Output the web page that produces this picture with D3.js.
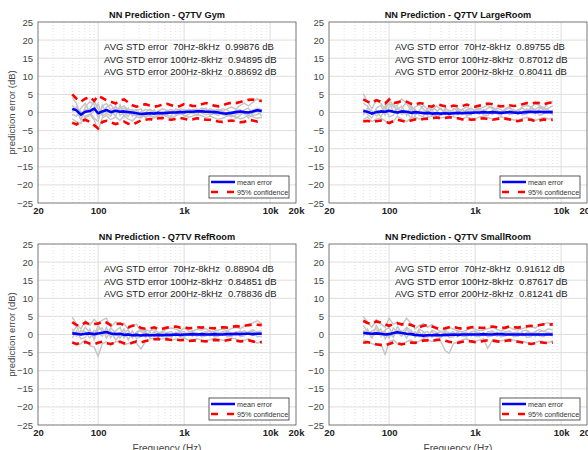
<!DOCTYPE html>
<meta charset="utf-8">
<style>
  body{margin:0;background:#fff;}
  text{font-family:"Liberation Sans",Arial,sans-serif;}
</style>
<svg id="chart" width="588" height="450"></svg>
<script src="https://cdn.jsdelivr.net/npm/d3@7/dist/d3.min.js"></script>
<script>

// frequency points (Hz), 1/6 octave
var freqs = [50,56,63,71,80,90,100,112,125,140,160,180,200,224,250,280,315,355,400,450,500,560,630,710,800,900,
  1000,1120,1250,1400,1600,1800,2000,2240,2500,2800,3150,3550,4000,4500,5000,5600,6300,7100,8000];

var xTicks = [20,100,1000,10000,20000];
var xTickLabels = ["20","100","1k","10k","20k"];
var yTicks = [-25,-20,-15,-10,-5,0,5,10,15,20,25];
var bandLabels = ["AVG STD error  70Hz-8kHz  ","AVG STD error 100Hz-8kHz  ","AVG STD error 200Hz-8kHz  "];
var legendLabels = ["mean error","95% confidence"];

// ---- Gym
var gymStats = ["0.99876","0.94895","0.88692"];
var gymMean = [1.0,0.6,-0.6,0.2,0.4,1.1,-0.2,0.3,0.7,0.1,0.5,0.2,0.3,0.1,0.0,-0.2,-0.4,-0.3,-0.2,-0.3,-0.1,-0.2,-0.1,0.0,0.0,0.1,
  0.1,0.2,0.2,0.3,0.3,0.2,0.2,0.1,0.0,-0.2,-0.3,-0.1,0.1,0.3,0.1,0.0,0.3,0.6,0.4];
var gymUpper = [5.0,3.8,3.0,3.8,4.3,3.2,4.6,4.0,3.4,3.0,2.5,3.4,3.6,2.8,2.0,1.6,2.0,2.3,1.9,1.6,1.8,2.2,2.4,2.0,1.6,1.8,
  2.3,2.2,1.8,1.8,2.3,2.6,2.3,1.9,1.7,2.0,2.4,2.7,2.6,2.9,3.2,3.5,3.6,3.3,3.2];
var gymLower = [-2.8,-3.3,-2.5,-2.0,-2.6,-3.5,-4.4,-2.6,-2.3,-2.7,-3.2,-2.8,-2.5,-3.1,-3.4,-2.8,-2.2,-2.0,-1.8,-2.1,-1.6,-1.5,-1.9,-2.0,-1.8,-1.5,
  -1.7,-2.0,-1.9,-1.6,-1.8,-2.0,-2.0,-2.2,-2.5,-2.6,-2.4,-2.2,-2.4,-2.7,-2.6,-2.0,-2.2,-2.5,-2.3];
var gymGray = [
  [4.2,2.5,-1.0,1.5,3.0,2.2,-1.5,1.8,2.5,0.8,1.5,0.5,1.2,0.3,-0.5,-1.0,0.2,0.8,0.5,-0.6,0.4,1.0,0.6,-0.2,0.3,1.0,0.8,0.2,-0.3,0.6,1.2,0.9,0.3,-0.4,-0.8,0.2,1.0,1.5,0.9,2.0,2.6,1.8,2.8,3.8,2.9],
  [-1.8,-2.5,-3.0,-1.0,-0.5,-2.0,-5.0,-1.5,-0.8,-2.0,-1.2,-2.2,-0.8,-1.8,-2.3,-1.2,-1.5,-0.6,-1.0,-1.6,-0.8,-0.5,-1.2,-1.5,-0.9,-0.4,-0.8,-1.3,-1.0,-0.5,-0.9,-1.4,-1.0,-1.5,-1.9,-1.6,-1.0,-0.8,-1.2,-1.8,-1.4,-0.8,-1.2,-1.6,-1.3],
  [2.0,0.5,-2.0,0.8,1.0,3.2,1.0,-0.5,1.5,2.2,0.3,1.2,1.8,0.6,0.8,-0.4,-1.2,0.0,0.9,0.2,-0.5,-0.2,0.5,0.8,0.2,-0.3,0.4,0.9,0.6,0.1,0.5,0.3,1.0,0.6,0.3,-0.5,-1.0,-0.3,0.5,0.8,-0.4,-0.7,0.6,1.2,0.8],
  [0.2,1.5,0.3,-1.5,-0.8,0.5,2.5,-1.0,-0.2,-1.0,1.8,-0.8,0.0,-1.0,0.5,0.8,-0.6,-1.2,-0.8,-1.2,0.2,-0.8,-0.6,0.3,-0.5,0.2,-0.3,0.4,0.8,1.0,-0.2,-0.6,-0.3,0.6,0.9,0.4,-0.6,-1.2,-0.5,-0.3,0.7,1.2,-0.8,-0.5,0.2],
  [-0.5,-1.0,1.2,2.5,0.0,-1.5,-2.5,2.0,0.0,0.5,-1.0,2.2,-1.2,1.2,-1.0,0.5,1.0,-1.5,-0.5,0.8,-1.2,0.3,-0.8,-1.0,1.0,0.6,-1.0,-0.6,0.3,-0.8,0.8,1.2,-0.8,-0.2,0.6,1.0,0.8,-0.5,-1.6,-0.8,0.3,-1.6,-0.2,0.5,-1.0]
];

// ---- LargeRoom
var largeStats = ["0.89755","0.87012","0.80411"];
var largeMean = [0.4,0.2,-0.3,0.1,0.3,0.2,0.5,0.2,0.0,0.3,0.2,-0.1,0.1,0.0,-0.2,-0.1,-0.3,-0.2,-0.3,-0.2,-0.3,-0.2,-0.1,-0.2,-0.1,-0.1,
  0.0,0.0,0.1,0.0,0.1,0.0,-0.1,0.0,0.1,0.0,-0.1,0.0,0.1,0.2,0.1,0.2,0.1,0.1,0.1];
var largeUpper = [3.6,3.0,2.6,3.4,3.0,2.5,3.6,2.6,2.8,3.2,3.0,2.4,2.1,2.6,2.4,1.8,1.6,2.3,2.0,1.7,1.5,1.9,1.7,1.8,2.2,1.8,
  1.6,1.9,2.2,2.5,2.3,1.9,1.7,1.8,2.0,1.8,1.9,2.3,2.6,2.5,2.7,2.6,2.3,2.6,2.8];
var largeLower = [-2.5,-2.3,-2.6,-2.4,-2.2,-2.5,-2.9,-2.4,-2.0,-2.3,-2.6,-2.2,-1.9,-2.1,-1.8,-1.7,-1.6,-1.4,-1.6,-1.5,-1.3,-1.5,-1.6,-1.9,-1.8,-2.0,
  -1.9,-1.7,-1.6,-1.8,-2.0,-1.8,-1.6,-1.7,-1.9,-2.2,-2.4,-2.1,-1.9,-2.0,-2.4,-2.2,-1.9,-2.2,-2.0];
var largeGray = [
  [5.2,3.0,1.0,3.5,2.5,1.0,4.0,1.5,2.0,3.8,2.5,0.5,1.5,2.2,1.0,0.0,0.5,1.8,0.8,0.3,-0.2,1.0,0.5,0.8,1.6,0.4,0.0,1.0,1.5,2.0,1.0,0.3,0.2,0.8,1.2,0.6,0.5,1.6,2.0,1.5,2.4,2.0,1.2,2.5,3.0],
  [-2.0,-1.2,-2.5,-1.8,-1.5,-2.3,-3.0,-2.5,-1.0,-1.8,-2.5,-1.5,-1.2,-1.8,-1.6,-1.3,-1.0,-0.8,-1.5,-1.2,-1.0,-1.2,-1.5,-1.8,-1.2,-1.6,-1.8,-1.2,-1.0,-1.4,-1.8,-1.5,-1.2,-1.5,-1.8,-2.0,-2.2,-1.6,-1.3,-1.6,-2.2,-1.8,-1.4,-1.8,-1.6],
  [1.0,-0.5,-1.5,1.2,2.0,-0.8,1.5,2.5,-0.5,1.0,3.0,1.5,-0.8,0.5,2.0,0.8,-1.0,0.2,1.2,-0.5,0.6,-0.8,0.8,-0.4,0.6,1.2,0.3,-0.5,0.8,0.2,-0.6,1.2,0.8,-0.3,0.4,0.9,-0.6,0.2,1.0,0.2,-0.4,1.0,1.5,0.2,0.5],
  [-0.8,1.2,0.5,-1.0,0.0,1.8,-1.2,-0.8,1.5,-0.5,0.0,-1.5,1.0,-0.8,-1.2,1.2,0.8,-1.2,-0.6,0.8,-0.9,0.3,-0.6,0.9,-0.8,-0.5,0.8,0.6,-0.6,-0.8,0.6,-0.4,-0.8,0.6,-0.6,-0.3,0.8,-0.7,-0.4,1.0,0.6,-0.8,-0.3,0.8,-0.6],
  [2.5,1.8,-0.5,0.5,-1.2,0.6,2.8,0.2,0.8,1.8,-0.8,2.0,0.5,-0.2,0.4,-0.8,1.5,0.6,-0.8,1.3,0.3,0.8,1.2,0.2,0.8,-0.6,1.0,1.2,0.2,1.2,1.5,0.6,-0.2,1.0,1.6,0.4,0.6,1.2,0.3,1.4,0.8,1.6,0.6,1.2,1.8]
];

// ---- RefRoom
var refStats = ["0.88904","0.84851","0.78836"];
var refMean = [0.3,0.2,0.0,0.2,0.3,0.1,0.3,0.5,0.7,0.3,0.1,0.2,-0.1,0.0,-0.2,-0.1,-0.3,-0.1,-0.2,-0.2,-0.1,-0.2,-0.1,-0.1,0.0,-0.1,
  0.0,0.0,0.1,0.0,0.1,0.0,0.0,0.1,0.0,0.0,0.1,0.1,0.2,0.1,0.2,0.2,0.1,0.2,0.2];
var refUpper = [3.4,2.6,2.5,3.3,2.8,2.9,3.0,3.6,3.3,2.6,2.9,3.0,2.6,2.0,2.4,2.6,1.8,1.6,1.7,2.0,1.5,1.6,1.9,2.1,2.2,1.9,
  2.1,1.7,1.8,2.0,1.9,2.1,1.8,1.7,1.9,2.0,1.9,2.1,2.3,2.2,2.4,2.6,2.7,2.7,2.6];
var refLower = [-2.2,-2.6,-2.3,-2.1,-2.5,-2.7,-2.3,-2.0,-2.4,-2.6,-2.2,-2.0,-2.4,-2.6,-2.3,-1.9,-2.2,-1.8,-1.6,-1.3,-1.2,-1.4,-1.3,-1.5,-1.4,-1.6,
  -1.5,-1.8,-1.7,-1.6,-1.8,-1.9,-1.7,-1.5,-1.6,-1.8,-1.6,-1.4,-1.7,-1.9,-1.8,-1.6,-1.9,-2.2,-2.1];
var refGray = [
  [4.8,3.0,1.5,3.8,2.5,4.2,3.0,4.0,4.5,2.0,3.5,2.8,3.0,1.5,2.5,2.8,0.8,1.2,0.9,1.5,0.5,0.8,1.6,1.8,1.5,1.0,1.8,1.0,0.9,1.4,1.2,1.6,0.8,0.9,1.2,1.5,1.0,1.6,2.0,1.6,2.3,2.8,3.2,3.8,3.0],
  [-2.0,-3.0,-2.5,-1.5,-3.0,-3.5,-6.0,-2.5,-2.0,-3.0,-2.0,-1.8,-2.8,-2.5,-2.0,-2.5,-4.0,-2.0,-1.2,-1.0,-1.5,-1.2,-0.8,-1.6,-1.2,-1.4,-1.0,-1.5,-1.6,-1.2,-1.5,-1.8,-1.4,-1.0,-1.2,-1.6,-1.4,-1.0,-1.2,-1.8,-1.6,-1.2,-1.8,-2.4,-1.8],
  [1.5,-0.5,1.0,0.8,-1.0,1.2,0.5,-0.5,2.0,-0.8,1.0,2.0,-1.0,0.5,-1.0,0.8,1.0,-0.8,0.6,-0.5,0.3,-0.6,0.5,0.8,-0.4,0.6,0.8,-0.3,0.6,-0.5,0.4,0.8,-0.4,0.5,0.6,-0.2,0.8,0.5,-0.3,0.6,1.0,0.4,-0.3,0.8,1.0],
  [-1.0,1.0,-1.2,-0.8,1.5,-1.5,1.5,1.8,-1.0,1.0,-1.5,0.0,1.5,-1.5,1.0,-1.2,-0.5,1.0,-0.8,0.6,-0.8,0.5,-0.6,-0.5,0.6,-0.7,-0.5,0.6,-0.5,0.6,-0.6,-0.4,0.5,-0.6,-0.5,0.6,-0.6,-0.5,0.8,-0.6,-0.4,0.6,0.8,-0.6,-0.5],
  [0.5,2.2,0.0,2.0,0.5,-0.5,2.5,0.8,0.0,1.8,0.5,-1.0,0.6,1.2,-0.5,0.0,1.8,0.5,-0.8,0.9,-0.4,1.0,0.2,-0.8,0.4,0.9,-0.8,0.4,1.0,0.2,-0.6,0.5,1.0,-0.4,0.2,0.8,0.4,-0.6,0.5,1.0,-0.2,0.8,1.3,0.6,0.4]
];

// ---- SmallRoom
var smallStats = ["0.91612","0.87617","0.81241"];
var smallMean = [0.4,0.3,0.2,0.3,0.2,0.0,0.1,0.4,0.6,0.4,0.2,0.1,-0.1,-0.2,-0.3,-0.2,-0.2,-0.1,-0.2,-0.1,-0.1,0.0,-0.1,0.0,0.0,0.0,
  0.0,0.0,0.1,0.0,0.0,0.1,0.1,0.0,0.0,0.0,0.0,0.0,0.0,0.0,0.0,0.0,0.0,0.0,0.0];
var smallUpper = [3.8,3.2,2.9,3.6,3.3,2.8,2.4,2.9,3.1,2.8,3.0,2.6,2.2,2.0,2.4,2.6,2.2,1.8,1.5,1.7,2.0,2.1,1.8,1.6,1.7,2.0,
  2.1,1.9,1.8,2.0,2.2,2.0,1.8,1.9,2.2,2.0,1.9,2.1,2.3,2.4,2.3,2.6,2.8,2.7,2.8];
var smallLower = [-2.3,-2.1,-2.4,-2.7,-2.9,-3.0,-2.6,-2.2,-2.4,-2.7,-2.5,-2.2,-2.3,-2.0,-1.7,-1.6,-1.8,-1.5,-1.4,-1.7,-2.0,-2.2,-2.3,-2.0,-1.8,-1.9,
  -2.1,-2.0,-1.8,-1.6,-1.7,-1.9,-2.0,-1.8,-1.6,-1.8,-2.0,-2.2,-2.4,-2.6,-2.4,-2.1,-2.3,-2.4,-2.2];
var smallGray = [
  [5.0,3.5,2.0,4.2,3.0,2.0,4.5,2.8,3.5,2.5,4.5,3.0,1.5,2.5,3.0,2.0,2.8,1.5,0.8,1.2,2.0,1.5,1.0,0.8,1.2,1.8,1.5,1.0,1.2,1.6,2.0,1.4,1.0,1.5,2.0,1.4,1.2,1.6,2.0,2.2,1.8,2.6,3.0,3.2,3.0],
  [-1.5,-2.0,-2.5,-3.0,-2.5,-5.5,-2.0,-1.5,-2.5,-3.0,-2.0,-1.5,-2.5,-1.8,-1.2,-1.5,-2.0,-1.2,-2.0,-4.5,-5.2,-2.5,-2.0,-1.5,-1.2,-1.8,-2.0,-1.5,-1.2,-3.8,-1.5,-1.6,-1.8,-1.4,-1.2,-1.6,-1.8,-2.0,-2.2,-2.8,-2.2,-1.8,-2.0,-2.2,-1.8],
  [1.2,0.0,1.0,1.5,-0.5,0.8,-1.0,1.8,0.5,-0.5,1.5,0.0,0.8,-0.6,0.5,0.8,-0.8,0.4,0.8,-0.5,0.3,0.8,-0.6,0.5,0.6,-0.4,0.6,0.5,-0.3,0.4,0.6,-0.5,0.4,0.8,-0.2,0.5,0.6,-0.4,0.6,0.5,-0.5,0.8,1.0,0.3,0.6],
  [-0.6,1.5,-0.8,0.5,1.5,-1.2,0.5,-0.8,1.2,1.0,-1.0,1.2,-0.8,0.8,-1.0,-0.5,0.8,-0.6,-0.8,0.5,-0.8,-0.6,0.6,-0.5,-0.6,0.6,-0.5,-0.6,0.5,-0.6,-0.4,0.6,-0.6,-0.4,0.5,-0.6,-0.4,0.5,-0.8,-0.6,0.6,-0.4,-0.6,0.6,-0.5],
  [2.5,0.8,-1.0,2.5,0.2,1.2,2.0,-0.5,2.2,0.5,2.0,1.0,-0.5,1.5,0.8,-0.8,1.2,0.6,-0.4,1.0,0.4,-0.6,1.0,0.6,-0.5,0.8,1.0,0.2,-0.4,0.8,1.0,0.0,-0.6,0.6,1.0,0.2,-0.5,1.0,1.2,0.3,0.8,1.4,0.8,1.6,1.2]
];

var panels = [
  {title:"NN Prediction - Q7TV Gym", stats:gymStats, mean:gymMean, upper:gymUpper, lower:gymLower, gray:gymGray, left:38, top:22, ylab:true, xlab:false},
  {title:"NN Prediction - Q7TV LargeRoom", stats:largeStats, mean:largeMean, upper:largeUpper, lower:largeLower, gray:largeGray, left:329, top:22, ylab:false, xlab:false},
  {title:"NN Prediction - Q7TV RefRoom", stats:refStats, mean:refMean, upper:refUpper, lower:refLower, gray:refGray, left:38, top:244, ylab:true, xlab:true},
  {title:"NN Prediction - Q7TV SmallRoom", stats:smallStats, mean:smallMean, upper:smallUpper, lower:smallLower, gray:smallGray, left:329, top:244, ylab:false, xlab:true}
];

var svg = d3.select("#chart");
var W = 258, H = 181;

function drawPanel(p, idx){
  var g = svg.append("g").attr("transform", "translate(" + p.left + "," + p.top + ")");
  var x = d3.scaleLog().domain([20, 20000]).range([0, W]);
  var y = d3.scaleLinear().domain([-25, 25]).range([H, 0]);

  g.append("rect").attr("width", W).attr("height", H).attr("fill", "#fff");

  // minor vertical grid (dotted)
  var minor = x.ticks().filter(function(d){ return xTicks.indexOf(d) < 0; });
  g.append("g").selectAll("line").data(minor).enter().append("line")
      .attr("x1", function(d){ return x(d); }).attr("x2", function(d){ return x(d); })
      .attr("y1", 0).attr("y2", H)
      .attr("stroke", "#d4d4d4").attr("stroke-width", 0.7).attr("stroke-dasharray", "1,2");

  // major grid
  g.append("g").selectAll("line").data(xTicks.slice(1, -1)).enter().append("line")
      .attr("x1", function(d){ return x(d); }).attr("x2", function(d){ return x(d); })
      .attr("y1", 0).attr("y2", H)
      .attr("stroke", "#dadada").attr("stroke-width", 0.9);
  g.append("g").selectAll("line").data(yTicks.slice(1, -1)).enter().append("line")
      .attr("x1", 0).attr("x2", W)
      .attr("y1", function(d){ return y(d); }).attr("y2", function(d){ return y(d); })
      .attr("stroke", "#dadada").attr("stroke-width", 0.9);

  // data lines
  g.append("clipPath").attr("id", "clip" + idx).append("rect").attr("width", W).attr("height", H);
  var plot = g.append("g").attr("clip-path", "url(#clip" + idx + ")");
  var line = d3.line()
      .x(function(d, i){ return x(freqs[i]); })
      .y(function(d){ return y(d); });

  p.gray.forEach(function(s){
    plot.append("path").datum(s).attr("fill", "none")
        .attr("stroke", "#c4c4c4").attr("stroke-width", 1.4).attr("d", line);
  });
  [p.upper, p.lower].forEach(function(s){
    plot.append("path").datum(s).attr("fill", "none")
        .attr("stroke", "#ff0000").attr("stroke-width", 2.6)
        .attr("stroke-dasharray", "7,5").attr("d", line);
  });
  plot.append("path").datum(p.mean).attr("fill", "none")
      .attr("stroke", "#0000ff").attr("stroke-width", 2.6)
      .attr("stroke-linejoin", "round").attr("d", line);

  // box
  g.append("rect").attr("width", W).attr("height", H)
      .attr("fill", "none").attr("stroke", "#555").attr("stroke-width", 0.8);

  // axes
  var yAxis = g.append("g").call(d3.axisLeft(y).tickValues(yTicks).tickSize(0).tickPadding(5));
  yAxis.select(".domain").remove();
  yAxis.selectAll("text").attr("font-size", 9.5).attr("fill", "#444")
      .style("font-family", "'Liberation Sans',Arial,sans-serif");

  var xAxis = g.append("g").attr("transform", "translate(0," + H + ")")
      .call(d3.axisBottom(x).tickValues(xTicks).tickSize(0).tickPadding(4)
        .tickFormat(function(d, i){ return xTickLabels[i]; }));
  xAxis.select(".domain").remove();
  xAxis.selectAll("text").attr("font-size", 9.5).attr("font-weight", "bold").attr("fill", "#222")
      .style("font-family", "'Liberation Sans',Arial,sans-serif");

  // title
  g.append("text").attr("x", W / 2).attr("y", -4).attr("text-anchor", "middle")
      .attr("font-size", 9.2).attr("font-weight", "bold").attr("fill", "#111").text(p.title);

  // stats text
  bandLabels.forEach(function(b, i){
    g.append("text").attr("x", 66).attr("y", 28 + i * 12.5)
        .attr("font-size", 9.5).attr("fill", "#222")
        .style("white-space", "pre")
        .text(b + p.stats[i] + " dB");
  });

  if (p.ylab) {
    g.append("text").attr("transform", "translate(-23," + (H / 2) + ") rotate(-90)")
        .attr("text-anchor", "middle").attr("font-size", 9.5).attr("fill", "#444")
        .text("prediction error (dB)");
  }
  if (p.xlab) {
    g.append("text").attr("x", W / 2).attr("y", H + 27).attr("text-anchor", "middle")
        .attr("font-size", 10).attr("fill", "#444").text("Frequency (Hz)");
  }

  // legend
  var lw = 80, lh = 22;
  var lg = g.append("g").attr("transform", "translate(" + (W - 7 - lw) + "," + (H - 5 - lh) + ")");
  lg.append("rect").attr("width", lw).attr("height", lh)
      .attr("fill", "#fff").attr("stroke", "#333").attr("stroke-width", 0.8);
  lg.append("line").attr("x1", 2).attr("x2", 26).attr("y1", 6).attr("y2", 6)
      .attr("stroke", "#0000ff").attr("stroke-width", 2.5);
  lg.append("line").attr("x1", 2).attr("x2", 26).attr("y1", 16).attr("y2", 16)
      .attr("stroke", "#ff0000").attr("stroke-width", 2.5).attr("stroke-dasharray", "7,9");
  legendLabels.forEach(function(t, i){
    lg.append("text").attr("x", 28).attr("y", 8.8 + i * 10)
        .attr("font-size", 7.2).attr("fill", "#333").text(t);
  });
}

panels.forEach(drawPanel);

</script>
